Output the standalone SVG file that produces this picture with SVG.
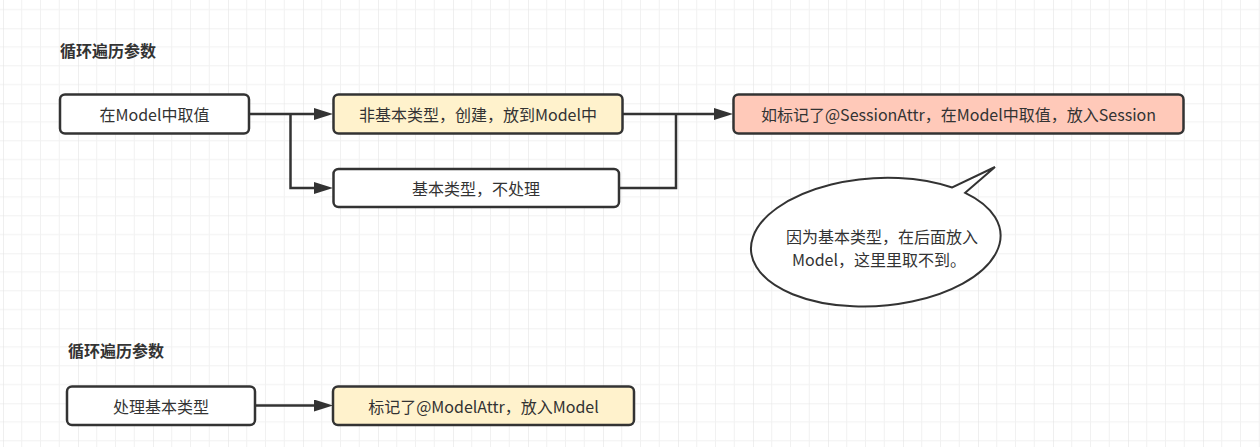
<svg xmlns="http://www.w3.org/2000/svg" width="1260" height="447" viewBox="0 0 1260 447">
  <style>
    .box { stroke: #333333; stroke-width: 2.5; }
    .plain { fill: #ffffff; }
    .yellow { fill: #fff2cc; }
    .salmon { fill: #ffc9b9; }
    .lbl { font-family: "Noto Sans CJK SC", "Liberation Sans", sans-serif; font-size: 16px; fill: #333333; text-anchor: middle; dominant-baseline: central; }
    .title { font-family: "Noto Sans CJK SC", "Liberation Sans", sans-serif; font-size: 16px; font-weight: bold; fill: #333333; dominant-baseline: central; }
    .conn { fill: none; stroke: #333333; stroke-width: 2.5; }
  </style>
  <defs>
    <pattern id="grid" patternUnits="userSpaceOnUse" x="3" y="28.3" width="75" height="75">
      <path d="M18.75 0V75M37.5 0V75M56.25 0V75M0 18.75H75M0 37.5H75M0 56.25H75" stroke="#f1f1f1" stroke-width="1" fill="none"/>
      <path d="M0 0V75M0 0H75" stroke="#e4e4e4" stroke-width="1.2" fill="none"/>
    </pattern>
    <marker id="arrow" markerUnits="userSpaceOnUse" markerWidth="20" markerHeight="14" refX="0" refY="6" orient="auto">
      <path d="M0,0 L19,6 L0,12 Z" fill="#333333"/>
    </marker>
  </defs>
  <rect x="0" y="0" width="1260" height="447" fill="#ffffff"/>
  <rect x="0" y="0" width="1260" height="447" fill="url(#grid)"/>

  <g id="title-1"><text class="title" x="60" y="49.5">循环遍历参数</text></g>

  <g id="connectors">
    <path class="conn" d="M249,114 H314" marker-end="url(#arrow)"/>
    <path class="conn" d="M290.5,114 V188 H314" marker-end="url(#arrow)"/>
    <path class="conn" d="M622,114 H714" marker-end="url(#arrow)"/>
    <path class="conn" d="M619,188 H676 V114"/>
    <path class="conn" d="M255,405.5 H314" marker-end="url(#arrow)"/>
  </g>

  <g id="node-a">
    <rect class="box plain" x="60" y="94.5" width="189" height="39" rx="5"/>
    <text class="lbl" x="154.5" y="114">在Model中取值</text>
  </g>
  <g id="node-b">
    <rect class="box yellow" x="333.5" y="94.5" width="289" height="39" rx="5"/>
    <text class="lbl" x="478" y="114">非基本类型，创建，放到Model中</text>
  </g>
  <g id="node-c">
    <rect class="box plain" x="333.5" y="169" width="285.5" height="38" rx="5"/>
    <text class="lbl" x="476" y="188">基本类型，不处理</text>
  </g>
  <g id="node-d">
    <rect class="box salmon" x="733.5" y="94.5" width="450" height="39" rx="5"/>
    <text class="lbl" x="958.5" y="114">如标记了@SessionAttr，在Model中取值，放入Session</text>
  </g>
  <g id="callout">
    <path d="M952.2,187.5 A125 64 -4 1 0 965.2,192.8 L995,167 Z" fill="#ffffff" stroke="#333333" stroke-width="2" stroke-linejoin="miter"/>
    <text class="lbl" x="882" y="235.5">因为基本类型，在后面放入</text>
    <text class="lbl" x="879" y="258.5">Model，这里里取不到。</text>
  </g>

  <g id="title-2"><text class="title" x="68" y="349.5">循环遍历参数</text></g>
  <g id="node-e">
    <rect class="box plain" x="67" y="386.5" width="188" height="38.5" rx="5"/>
    <text class="lbl" x="161" y="405.5">处理基本类型</text>
  </g>
  <g id="node-f">
    <rect class="box yellow" x="333" y="386.5" width="301" height="38.5" rx="5"/>
    <text class="lbl" x="483.5" y="405.5">标记了@ModelAttr，放入Model</text>
  </g>
</svg>
